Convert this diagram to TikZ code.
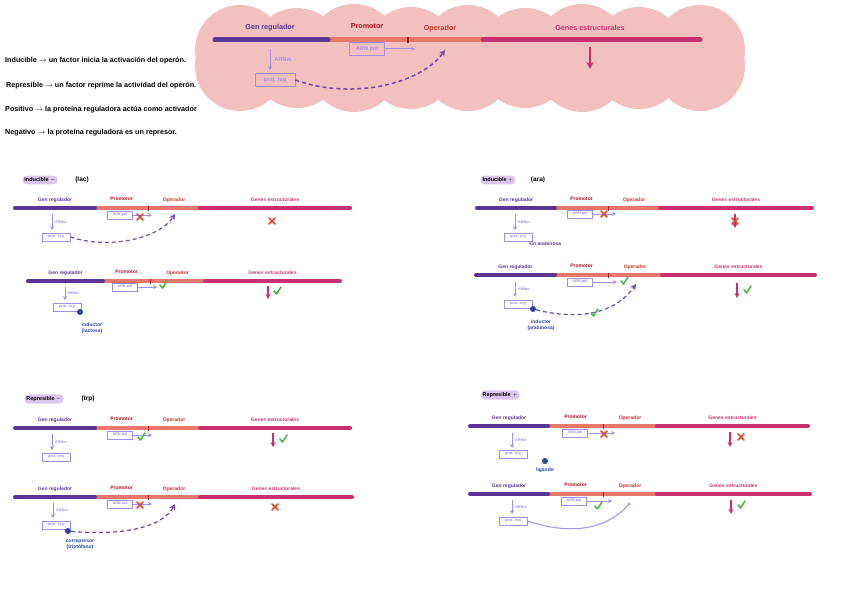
\documentclass[tikz,border=0pt]{standalone}
\usepackage{fontspec}
\setmainfont{Liberation Sans}
\usetikzlibrary{arrows.meta,calc}
\definecolor{cloudc}{HTML}{F2C0BE}
\definecolor{regp}{HTML}{5B3596}
\definecolor{salm}{HTML}{E8776C}
\definecolor{magc}{HTML}{C8306F}
\definecolor{promc}{HTML}{B31222}
\definecolor{operc}{HTML}{C4372C}
\definecolor{lilac}{HTML}{A08EF0}
\definecolor{dashp}{HTML}{7446B0}
\definecolor{dotb}{HTML}{2F44A8}
\definecolor{okg}{HTML}{4DBA45}
\definecolor{nored}{HTML}{E8412C}
\definecolor{hlc}{HTML}{DCC6F0}
\tikzset{
  dna/.style={line width=4pt,line cap=round},
  lbl/.style={font=\fontsize{5}{6}\selectfont\bfseries,inner sep=0.5pt},
  toplbl/.style={font=\fontsize{7.2}{8}\selectfont\bfseries,inner sep=0.5pt},
  polbox/.style={draw=lilac,text=lilac,line width=0.7pt,font=\fontsize{3.8}{4}\selectfont\bfseries,minimum width=25pt,minimum height=8pt,inner sep=1pt},
  regbox/.style={draw=lilac,text=lilac,line width=0.7pt,font=\fontsize{3.8}{4}\selectfont\bfseries,minimum width=28pt,minimum height=8pt,inner sep=1pt},
  bigbox/.style={polbox,font=\fontsize{5.5}{6}\selectfont\bfseries,minimum width=35pt,minimum height=13pt},
  lilarrow/.style={draw=lilac,line width=0.8pt,-{Stealth[length=4pt,width=4pt]}},
  magarrow/.style={draw=magc,line width=1.1pt,-{Stealth[length=5pt,width=5pt]}},
  dashcurve/.style={draw=dashp,line width=1.2pt,dash pattern=on 4pt off 3pt,-{Stealth[length=6pt,width=6pt]}},
  smalltxt/.style={font=\fontsize{3.8}{4}\selectfont\bfseries,text=lilac,inner sep=0.5pt},
  bluetxt/.style={font=\fontsize{5}{6}\selectfont\bfseries,text=dotb,inner sep=0.5pt,align=center},
  deftxt/.style={font=\fontsize{7.2}{8}\selectfont\bfseries,anchor=west,inner sep=0pt},
  titlebox/.style={fill=hlc,rounded corners=4pt,font=\fontsize{5.5}{6}\selectfont\bfseries,inner sep=2pt},
  titletxt/.style={font=\fontsize{6.5}{7}\selectfont\bfseries,inner sep=0.5pt},
  okstroke/.style={draw=okg,line width=1.6pt,line cap=round,line join=round},
  nostroke/.style={draw=nored,line width=1.6pt,line cap=round},
  bdot/.style={circle,fill=dotb,inner sep=0pt,minimum size=6pt}
}
\newcommand\okmark[1]{\draw[okstroke] ($(#1)+(-3,0)$) -- ($(#1)+(-0.5,3)$) -- ($(#1)+(4,-4)$);}
\newcommand\nomark[1]{\draw[nostroke] ($(#1)+(-3,-3)$) -- ($(#1)+(3,3)$) ($(#1)+(3,-3)$) -- ($(#1)+(-3,3)$);}
% #1 name, #2 x0, #3 x1, #4 xtick, #5 x2, #6 x3, #7 y
\newcommand\operonrow[7]{%
  \coordinate (#1a) at (#2,#7);
  \coordinate (#1b) at (#3,#7);
  \coordinate (#1t) at (#4,#7);
  \coordinate (#1c) at (#5,#7);
  \coordinate (#1d) at (#6,#7);
  \draw[dna,salm,line cap=butt] (#1b) -- (#1c);
  \draw[dna,regp] (#1a) -- (#1b);
  \draw[dna,magc] (#1c) -- (#1d);
  \draw[promc,line width=1pt] ($(#1t)+(0,-2.5)$) -- ($(#1t)+(0,2.5)$);
  \node[lbl,text=regp] (#1gr) at ({(#2+#3)/2},{#7-8}) {Gen regulador};
  \node[lbl,text=promc] (#1pr) at ({(#3+#4)/2},{#7-9}) {Promotor};
  \node[lbl,text=operc] (#1op) at ({(#4+#5)/2},{#7-8}) {Operador};
  \node[lbl,text=magc] (#1ge) at ({(#5+#6)/2},{#7-8}) {Genes estructurales};
}
\begin{document}
\begin{tikzpicture}[x=1pt,y=-1pt]
\useasboundingbox (0,0) rectangle (848,602);
% ---------- cloud ----------
\foreach \x/\dy in {240/0,297/3,354/-1,411/2,468/0,525/3,582/-1,639/2,700/0} {
  \fill[cloudc] (\x,{50+\dy}) circle (45);
  \fill[cloudc] (\x,{66-\dy}) circle (45);
}
% ---------- top operon ----------
\coordinate (Ta) at (215,40); \coordinate (Tb) at (328,40);
\coordinate (Tt) at (408,40); \coordinate (Tc) at (483,40); \coordinate (Td) at (700,40);
\draw[line width=5pt,salm] (Tb) -- (Tc);
\draw[line width=5pt,line cap=round,regp] (Ta) -- (Tb);
\draw[line width=5pt,line cap=round,magc] (Tc) -- (Td);
\draw[promc,line width=1.3pt] (408,37) -- (408,43);
\node[toplbl,text=regp] (Tgr) at (270,28) {Gen regulador};
\node[toplbl,text=promc] (Tpr) at (367,26) {Promotor};
\node[toplbl,text=operc] (Top) at (440,29) {Operador};
\node[toplbl,text=magc] (Tge) at (590,28) {Genes estructurales};
\node[bigbox] (Tpol) at (367,49) {ARN pol};
\coordinate (Tpolend) at (415,49);
\draw[lilarrow,line width=1pt] (Tpol) -- (Tpolend);
\coordinate (Tr1) at (270,49); \coordinate (Tr2) at (270,70);
\draw[lilarrow,line width=1pt] (Tr1) -- (Tr2);
\node[smalltxt,font=\fontsize{5.5}{6}\selectfont\bfseries] (Tarn) at (283,60) {ARNm};
\node[bigbox,minimum width=40pt] (Treg) at (275,80) {prot. reg};
\coordinate (Top2) at (445,50);
\draw[dashcurve,line width=1.5pt] (Treg.east) .. controls (350,100) and (420,85) .. (Top2);
\coordinate (Tm1) at (590,47); \coordinate (Tm2) at (590,69);
\draw[magarrow,line width=1.4pt,-{Stealth[length=7pt,width=7pt]}] (Tm1) -- (Tm2);
% ---------- definitions ----------
\node[deftxt] (d1) at (5,61) {Inducible $\rightarrow$ un factor inicia la activación del operón.};
\node[deftxt] (d2) at (6,86) {Represible $\rightarrow$ un factor reprime la actividad del operón.};
\node[deftxt] (d3) at (5,110) {Positivo $\rightarrow$ la proteína reguladora actúa como activador};
\node[deftxt] (d4) at (5,133) {Negativo $\rightarrow$ la proteína reguladora es un represor.};
% ---------- panel A: Inducible - (lac) ----------
\node[titlebox] (At) at (40,180) {Inducible $-$};
\node[titletxt] (Atl) at (82,180) {(lac)};
\operonrow{A}{15}{95}{148}{200}{350}{208}
\node[polbox] (Apol) at (120,215) {ARN pol};
\coordinate (Apolend) at (152,215);
\draw[lilarrow] (Apol) -- (Apolend);
\coordinate (Ax1) at (140,217); \nomark{Ax1}
\coordinate (Ar1) at (52,214); \coordinate (Ar2) at (52,230);
\draw[lilarrow] (Ar1) -- (Ar2);
\node[smalltxt] (Aarn) at (61,222) {ARNm};
\node[regbox] (Areg) at (56,237) {prot. reg};
\coordinate (Aop) at (175,214);
\draw[dashcurve] (Areg.east) .. controls (110,250) and (160,238) .. (Aop);
\coordinate (Ax2) at (272,221); \nomark{Ax2}
% ---------- panel B ----------
\operonrow{B}{28}{103}{150}{205}{340}{281}
\node[polbox] (Bpol) at (125,287) {ARN pol};
\coordinate (Bpolend) at (157,287);
\draw[lilarrow] (Bpol) -- (Bpolend);
\coordinate (Bk1) at (163,285); \okmark{Bk1}
\coordinate (Br1) at (65,287); \coordinate (Br2) at (65,300);
\draw[lilarrow] (Br1) -- (Br2);
\node[smalltxt] (Barn) at (73,293) {ARNm};
\node[regbox] (Breg) at (67,307) {prot. reg};
\node[bdot] (Bdot) at (80,312) {};
\node[bluetxt] (Bind) at (92,328) {inductor\\(lactosa)};
\coordinate (Bm1) at (268,286); \coordinate (Bm2) at (268,299);
\draw[magarrow] (Bm1) -- (Bm2);
\coordinate (Bk2) at (277,291); \okmark{Bk2}
% ---------- panel C: Inducible + (ara) ----------
\node[titlebox] (Ct) at (498,180) {Inducible $+$};
\node[titletxt] (Ctl) at (538,180) {(ara)};
\operonrow{C}{477}{555}{608}{660}{812}{208}
\node[polbox] (Cpol) at (580,214) {ARN pol};
\coordinate (Cpolend) at (616,214);
\draw[lilarrow] (Cpol) -- (Cpolend);
\coordinate (Cx1) at (604,214); \nomark{Cx1}
\coordinate (Cr1) at (515,214); \coordinate (Cr2) at (515,230);
\draw[lilarrow] (Cr1) -- (Cr2);
\node[smalltxt] (Carn) at (524,222) {ARNm};
\node[regbox] (Creg) at (518,237) {prot. reg};
\node[bluetxt,text=regp] (Csin) at (545,244) {sin arabinosa};
\coordinate (Cm1) at (735,214); \coordinate (Cm2) at (735,228);
\draw[magarrow] (Cm1) -- (Cm2);
\coordinate (Cx2) at (735,221); \nomark{Cx2}
% ---------- panel D ----------
\operonrow{D}{476}{555}{608}{662}{815}{275}
\node[polbox] (Dpol) at (580,282) {ARN pol};
\coordinate (Dpolend) at (617,282);
\draw[lilarrow] (Dpol) -- (Dpolend);
\coordinate (Dk1) at (624,281); \okmark{Dk1}
\coordinate (Dr1) at (515,282); \coordinate (Dr2) at (515,297);
\draw[lilarrow] (Dr1) -- (Dr2);
\node[smalltxt] (Darn) at (524,289) {ARNm};
\node[regbox] (Dreg) at (518,304) {prot. reg};
\node[bdot] (Ddot) at (533,309) {};
\coordinate (Dop) at (636,284);
\draw[dashcurve] (Ddot) .. controls (585,322) and (618,310) .. (Dop);
\coordinate (Dk2) at (594,313); \okmark{Dk2}
\node[bluetxt] (Dind) at (541,325) {inductor\\(arabinosa)};
\coordinate (Dm1) at (737,283); \coordinate (Dm2) at (737,298);
\draw[magarrow] (Dm1) -- (Dm2);
\coordinate (Dk3) at (747,290); \okmark{Dk3}
% ---------- panel E: Represible - (trp) ----------
\node[titlebox] (Et) at (44,399) {Represible $-$};
\node[titletxt] (Etl) at (88,399) {(trp)};
\operonrow{E}{15}{95}{148}{200}{350}{428}
\node[polbox] (Epol) at (120,435) {ARN pol};
\coordinate (Epolend) at (152,435);
\draw[lilarrow] (Epol) -- (Epolend);
\coordinate (Ek1) at (141,437); \okmark{Ek1}
\coordinate (Er1) at (52,434); \coordinate (Er2) at (52,450);
\draw[lilarrow] (Er1) -- (Er2);
\node[smalltxt] (Earn) at (61,442) {ARNm};
\node[regbox] (Ereg) at (56,457) {prot. reg};
\coordinate (Em1) at (273,433); \coordinate (Em2) at (273,447);
\draw[magarrow] (Em1) -- (Em2);
\coordinate (Ek2) at (283,439); \okmark{Ek2}
% ---------- panel F ----------
\operonrow{F}{15}{95}{148}{200}{352}{497}
\node[polbox] (Fpol) at (120,504) {ARN pol};
\coordinate (Fpolend) at (152,504);
\draw[lilarrow] (Fpol) -- (Fpolend);
\coordinate (Fx1) at (140,505); \nomark{Fx1}
\coordinate (Fr1) at (53,503); \coordinate (Fr2) at (53,518);
\draw[lilarrow] (Fr1) -- (Fr2);
\node[smalltxt] (Farn) at (62,510) {ARNm};
\node[regbox] (Freg) at (56,525) {prot. reg};
\node[bdot] (Fdot) at (68,531) {};
\coordinate (Fop) at (175,504);
\draw[dashcurve] (Fdot) .. controls (120,536) and (162,528) .. (Fop);
\node[bluetxt] (Find) at (80,545) {correpresor\\(triptófano)};
\coordinate (Fx2) at (275,507); \nomark{Fx2}
% ---------- panel G: Represible + ----------
\node[titlebox] (Gt) at (500,395) {Represible $+$};
\operonrow{G}{470}{548}{603}{657}{808}{426}
\node[polbox] (Gpol) at (575,433) {ARN pol};
\coordinate (Gpolend) at (615,433);
\draw[lilarrow] (Gpol) -- (Gpolend);
\coordinate (Gx1) at (604,434); \nomark{Gx1}
\coordinate (Gr1) at (512,433); \coordinate (Gr2) at (512,448);
\draw[lilarrow] (Gr1) -- (Gr2);
\node[smalltxt] (Garn) at (521,440) {ARNm};
\node[regbox] (Greg) at (513,454) {prot. reg};
\node[bdot] (Gdot) at (545,461) {};
\node[bluetxt] (Glig) at (545,470) {ligando};
\coordinate (Gm1) at (730,432); \coordinate (Gm2) at (730,447);
\draw[magarrow] (Gm1) -- (Gm2);
\coordinate (Gx2) at (741,437); \nomark{Gx2}
% ---------- panel H ----------
\operonrow{H}{470}{548}{603}{657}{810}{494}
\node[polbox] (Hpol) at (574,501) {ARN pol};
\coordinate (Hpolend) at (612,501);
\draw[lilarrow] (Hpol) -- (Hpolend);
\coordinate (Hk1) at (598,506); \okmark{Hk1}
\coordinate (Hr1) at (512,500); \coordinate (Hr2) at (512,514);
\draw[lilarrow] (Hr1) -- (Hr2);
\node[smalltxt] (Harn) at (521,507) {ARNm};
\node[regbox] (Hreg) at (513,521) {prot. reg};
\coordinate (Hop) at (630,503);
\draw[draw=lilac,line width=1pt,-{Circle[length=3pt]}] (Hreg.east) .. controls (585,540) and (615,520) .. (Hop);
\coordinate (Hm1) at (731,500); \coordinate (Hm2) at (731,514);
\draw[magarrow] (Hm1) -- (Hm2);
\coordinate (Hk2) at (741,505); \okmark{Hk2}
\end{tikzpicture}
\end{document}
